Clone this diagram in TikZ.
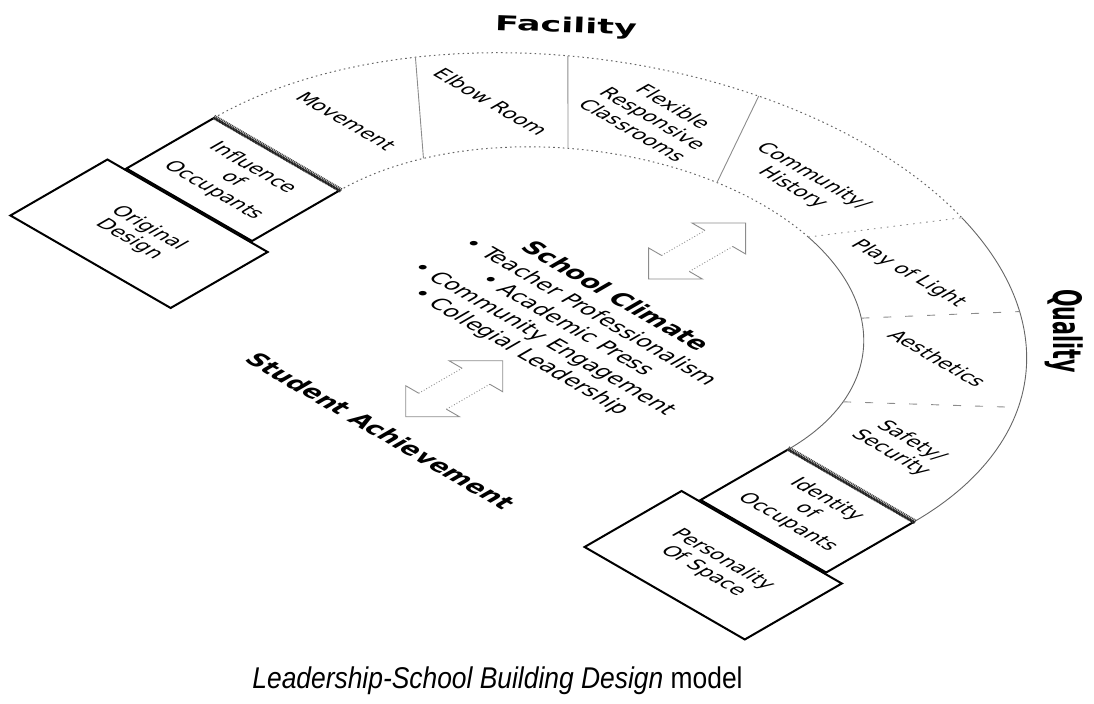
\documentclass[tikz,border=0pt]{standalone}
\usepackage{fontspec}
\setmainfont{DejaVu Sans}
\newfontfamily\capfont{Liberation Sans}
\usetikzlibrary{positioning}

\tikzset{
  iso/.style={shift={(563.8,-320)},cm={0.866,-0.5,0.866,0.5,(0,0)}},
  band/.style={draw=black!60,line width=0.5pt,dash pattern=on 0.8pt off 1.6pt},
  qband/.style={draw=black!60,line width=0.45pt},
  divider/.style={draw=black!45,line width=0.45pt},
  dotdiv/.style={dash pattern=on 0.8pt off 2.5pt},
  dashdiv/.style={dash pattern=on 4pt off 7pt},
  hatch/.style={line width=2.4pt,draw=black!75,dash pattern=on 0.5pt off 0.4pt},
  arrowline/.style={draw=black!45,line width=0.45pt},
  seg/.style={transform shape,align=center,inner sep=0pt,font=\fontsize{10}{11.8}\selectfont},
  endbox/.style={draw,line width=1pt,transform shape,align=center,inner sep=0pt,
    minimum width=72.5pt,minimum height=50.5pt,font=\fontsize{10}{11.3}\selectfont},
  basebox/.style={endbox,minimum width=92.5pt,minimum height=56pt},
  heading/.style={inner sep=0pt,font=\bfseries\fontsize{12.3}{14}\selectfont},
}

\begin{document}
\begin{tikzpicture}[x=0.5pt,y=0.5pt]
\useasboundingbox (0,0) rectangle (1094,-704);

\begin{scope}[iso]
\draw[band] (180:259 and 230) arc[start angle=180,end angle=77,x radius=259,y radius=230];
\draw[qband] (77:259 and 230) arc[start angle=77,end angle=0,x radius=259,y radius=230];
\draw[band] (180:404 and 350) arc[start angle=180,end angle=71.6,x radius=404,y radius=350];
\draw[qband] (71.6:404 and 350) arc[start angle=71.6,end angle=0,x radius=404,y radius=350];
\foreach \i/\o/\st in {159.5/149.6/solid,130.8/130.4/solid,100.9/106/solid,
                       77/71.6/dotdiv,49/50.9/dashdiv,20.2/30/dashdiv}
  \draw[divider,\st] (\i:259 and 230) -- (\o:404 and 350);

\node[endbox] (influence) at (-331.5,-50.5) {Influence\\of\\Occupants};
\node[basebox,below=0pt of influence] (original) {Original\\Design};
\node[endbox] (identity) at (331.5,-50.5) {Identity\\of\\Occupants};
\node[basebox,below=0pt of identity] (personality) {Personality\\Of Space};
\draw[hatch] (influence.north west) -- (influence.north east);
\draw[hatch] (identity.north west) -- (identity.north east);

\node[seg] (movement) at (-324.7,73.3) {Movement};
\node[seg] (elbow) at (-260.3,176.3) {Elbow Room};
\node[seg] (flexible) at (-150,253.5) {Flexible\\Responsive\\Classrooms};
\node[seg] (history) at (0,276) {Community/\\History};
\node[seg] (light) at (152.2,245.6) {Play of Light};
\node[seg] (aesthetics) at (254.1,177.5) {Aesthetics};
\node[seg] (safety) at (321.7,67.5) {Safety/\\Security};

\node[heading,transform shape] (climate) at (6.4,54.7) {School Climate};
\node[transform shape,align=center,inner sep=0pt,font=\fontsize{11}{13.4}\selectfont] (factors) at (7,-17)
  {• Teacher Professionalism\\• Academic Press\\• Community Engagement\\• Collegial Leadership};
\node[heading,transform shape] (student) at (5.2,-216.5) {Student Achievement};

\foreach \ax/\ab in {8/90,5.5/-188}{
  \draw[arrowline] (\ax-16,\ab+31) -- (\ax-31,\ab+31) -- (\ax,\ab) -- (\ax+31,\ab+31) -- (\ax+16,\ab+31);
  \draw[arrowline] (\ax-16,\ab+81) -- (\ax-31,\ab+81) -- (\ax,\ab+112) -- (\ax+31,\ab+81) -- (\ax+16,\ab+81);
  \draw[arrowline,densely dotted] (\ax-16,\ab+31) -- (\ax-16,\ab+81) (\ax+16,\ab+31) -- (\ax+16,\ab+81);
}
\end{scope}

\node[heading,rotate=-2] (facility) at (566,-27) {\fontsize{10.3}{12}\selectfont\scalebox{1.7}[1]{Facility}};
\node[heading,rotate=-90] (quality) at (1064,-331) {\fontsize{10.3}{12}\selectfont\scalebox{1}[1.9]{Quality}};
\node[font=\capfont\fontsize{15}{17}\selectfont] (caption) at (497.5,-681)
  {\scalebox{0.88}[1]{\textit{Leadership-School Building Design} model}};
\end{tikzpicture}
\end{document}
